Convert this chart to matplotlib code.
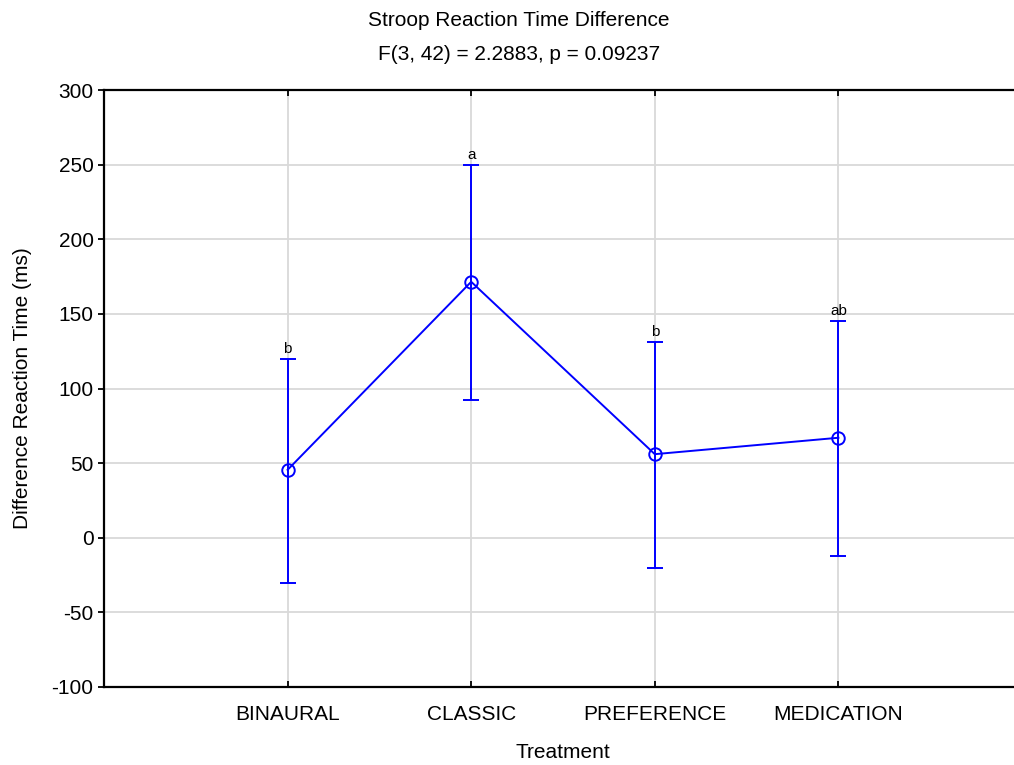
import matplotlib
matplotlib.use("Agg")
import matplotlib.pyplot as plt

plt.rcParams['font.family'] = ['Liberation Sans', 'DejaVu Sans']
plt.rcParams['axes.unicode_minus'] = False

treatments = ["BINAURAL", "CLASSIC", "PREFERENCE", "MEDICATION"]
means = [45.5, 171.5, 56.0, 67.0]
ci_low = [-30.5, 92.5, -20.0, -12.0]
ci_high = [120.0, 249.5, 131.0, 145.5]
letters = ["b", "a", "b", "ab"]

x = list(range(1, len(treatments) + 1))
err_lo = [m - l for m, l in zip(means, ci_low)]
err_hi = [h - m for m, h in zip(means, ci_high)]

fig = plt.figure(figsize=(10.14, 7.65), dpi=100)
ax = fig.add_axes([104 / 1014, 78 / 765, 918 / 1014, 597 / 765])

ax.errorbar(x, means, yerr=[err_lo, err_hi], color="blue", lw=1.4,
            marker="o", ms=9, mfc="none", mec="blue", mew=1.4,
            capsize=6, capthick=1.4, elinewidth=1.4, zorder=3)

for xi, hi, lab in zip(x, ci_high, letters):
    ax.text(xi, hi + 2, lab, ha="center", va="bottom", fontsize=11)

ax.set_xlim(0, 5)
ax.set_ylim(-100, 300)
ax.set_yticks(range(-100, 301, 50))
ax.set_xticks(x)
ax.set_xticklabels(treatments)
ax.grid(True, color="#d9d9d9", lw=1.3, zorder=0)
ax.set_axisbelow(True)

ax.tick_params(axis="x", direction="in", top=True, length=4, width=1.3,
               labelsize=15, pad=13)
ax.tick_params(axis="y", direction="out", length=4, width=1.3, labelsize=15)
for s in ["left", "bottom", "top"]:
    ax.spines[s].set_linewidth(1.6)

ax.set_xlabel("Treatment", fontsize=15, labelpad=14)
ax.set_ylabel("Difference Reaction Time (ms)", fontsize=15, labelpad=14)

fig.text(519 / 1014, 1 - 20 / 765, "Stroop Reaction Time Difference",
         ha="center", va="center", fontsize=15)
fig.text(519 / 1014, 1 - 55 / 765, "F(3, 42) = 2.2883, p = 0.09237",
         ha="center", va="center", fontsize=15)

fig.savefig("out.png", dpi=100)
